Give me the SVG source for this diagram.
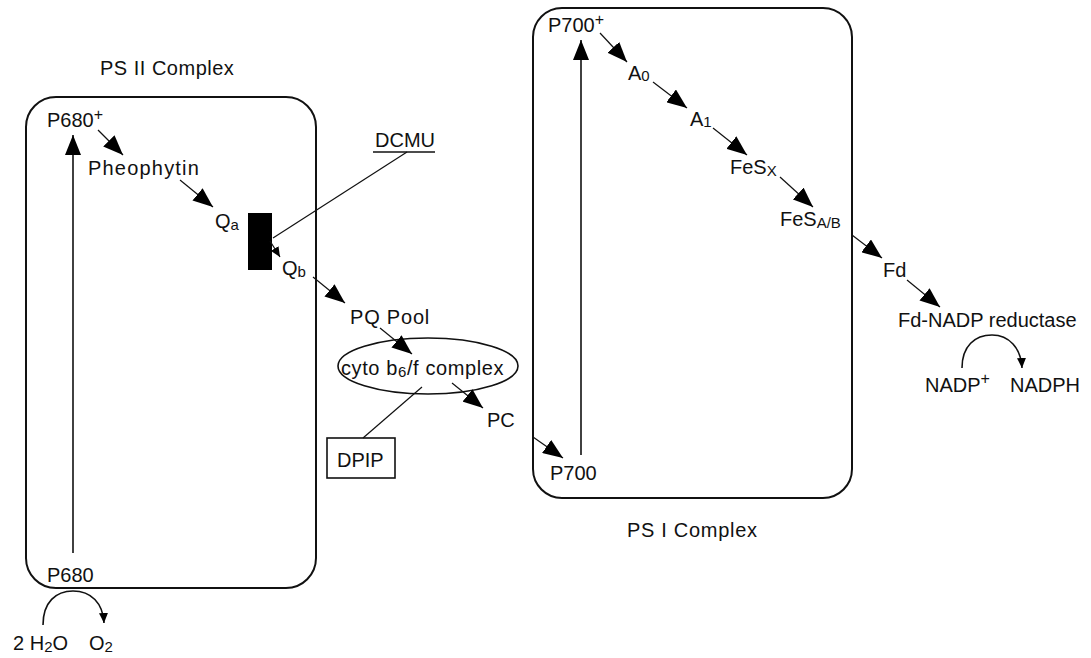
<svg xmlns="http://www.w3.org/2000/svg" width="1091" height="658" viewBox="0 0 1091 658">
<style>
text{font-family:"Liberation Sans",Arial,sans-serif;font-size:20px;fill:#111}
.sub{font-size:15px}
.sup{font-size:16px}
.box{fill:none;stroke:#111;stroke-width:2}
.c{fill:none;stroke:#111;stroke-width:1.2}
.big{marker-end:url(#ah)}
.sm{marker-end:url(#as)}
</style>
<defs>
<marker id="ah" markerUnits="userSpaceOnUse" markerWidth="20" markerHeight="16" refX="20" refY="8" orient="auto"><path d="M0,0 L20,8 L0,16 Z" fill="#000"/></marker>
<marker id="as" markerUnits="userSpaceOnUse" markerWidth="10" markerHeight="9" refX="10" refY="4.5" orient="auto"><path d="M0,0 L10,4.5 L0,9 Z" fill="#000"/></marker>
</defs>
<rect width="1091" height="658" fill="#fff"/>
<g id="ps2">
<rect class="box" x="26" y="97" width="290" height="491" rx="30"/>
<text x="100" y="75" style="letter-spacing:0.5px">PS II Complex</text>
</g>
<g id="ps1">
<rect class="box" x="533" y="8" width="319" height="490" rx="29"/>
<text x="627" y="537" style="letter-spacing:0.7px">PS I Complex</text>
</g>
<g id="p680plus"><text x="47" y="127">P680<tspan class="sup" dy="-7">+</tspan></text></g>
<g id="pheophytin"><text x="88" y="175" style="letter-spacing:1.2px">Pheophytin</text></g>
<g id="qa"><text x="215" y="228">Q<tspan class="sub" dy="2">a</tspan></text></g>
<g id="block"><rect x="248" y="213" width="24" height="57" fill="#000"/></g>
<g id="qb"><text x="282" y="275">Q<tspan class="sub" dy="2">b</tspan></text></g>
<g id="dcmu"><text x="375" y="147">DCMU</text><line x1="373" y1="152" x2="435" y2="152" stroke="#111" stroke-width="1.5"/></g>
<g id="pqpool"><text x="350" y="324" style="letter-spacing:0.8px">PQ Pool</text></g>
<g id="cyto">
<ellipse class="box" cx="428" cy="366" rx="90" ry="28" style="stroke-width:1.6"/>
<text x="341" y="375" style="letter-spacing:0.6px">cyto b<tspan class="sub" dy="2">6</tspan><tspan dy="-2">/f complex</tspan></text>
</g>
<g id="dpip"><rect class="box" x="327" y="438" width="68" height="40" style="stroke-width:1.6"/><text x="337" y="467">DPIP</text></g>
<g id="pc"><text x="487" y="427">PC</text></g>
<g id="p700"><text x="550" y="480">P700</text></g>
<g id="p700plus"><text x="548" y="32">P700<tspan class="sup" dy="-7">+</tspan></text></g>
<g id="a0"><text x="628" y="80">A<tspan class="sub" dy="1">0</tspan></text></g>
<g id="a1"><text x="690" y="126">A<tspan class="sub" dy="1">1</tspan></text></g>
<g id="fesx"><text x="730" y="174">FeS<tspan class="sub" dy="2">X</tspan></text></g>
<g id="fesab"><text x="780" y="226">FeS<tspan class="sub" dy="2">A/B</tspan></text></g>
<g id="fd"><text x="883" y="277">Fd</text></g>
<g id="fnr"><text x="898" y="327">Fd-NADP reductase</text></g>
<g id="nadp"><text x="925" y="392">NADP<tspan class="sup" dy="-8">+</tspan></text></g>
<g id="nadph"><text x="1010" y="392">NADPH</text></g>
<g id="p680"><text x="47" y="582">P680</text></g>
<g id="h2o"><text x="13" y="650">2 H<tspan class="sub" dy="2">2</tspan><tspan dy="-2">O</tspan></text></g>
<g id="o2"><text x="89" y="650">O<tspan class="sub" dy="2">2</tspan></text></g>
<g id="connectors">
<line class="c big" x1="73" y1="553" x2="73" y2="135" style="stroke-width:1.6"/>
<line class="c big" x1="98" y1="130" x2="123" y2="155"/>
<line class="c big" x1="180" y1="180" x2="213" y2="207"/>
<line class="c sm" x1="270" y1="241" x2="280" y2="257"/>
<line class="c big" x1="313" y1="277" x2="345" y2="303"/>
<line class="c big" x1="380" y1="328" x2="412" y2="354"/>
<line class="c big" x1="452" y1="383" x2="483" y2="408"/>
<line class="c big" x1="533" y1="437" x2="563" y2="458"/>
<line class="c big" x1="581" y1="455" x2="581" y2="40" style="stroke-width:1.6"/>
<line class="c big" x1="600" y1="33" x2="627" y2="62"/>
<line class="c big" x1="653" y1="82" x2="687" y2="108"/>
<line class="c big" x1="713" y1="128" x2="747" y2="155"/>
<line class="c big" x1="780" y1="177" x2="813" y2="207"/>
<line class="c big" x1="852" y1="235" x2="882" y2="258"/>
<line class="c big" x1="907" y1="280" x2="940" y2="307"/>
<line class="c" x1="407" y1="152" x2="273" y2="238"/>
<line class="c" x1="422" y1="387" x2="363" y2="438"/>
<path class="c sm" d="M43,625 C43,602 56,591 73,591 C91,591 103,603 104,623" style="stroke-width:1.6"/>
<path class="c sm" d="M962,368 C962,346 975,335 992,335 C1009,335 1021,348 1022,368" style="stroke-width:1.6"/>
</g>
</svg>
